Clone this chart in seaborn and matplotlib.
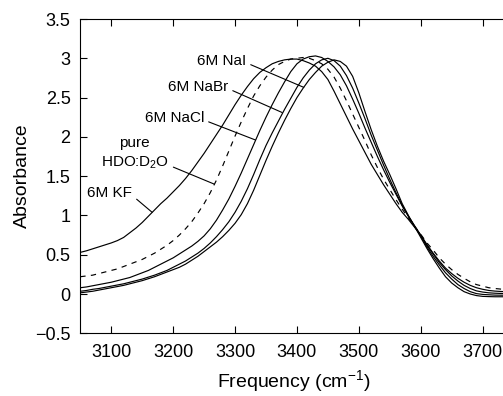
import matplotlib
matplotlib.use("Agg")
import matplotlib.pyplot as plt
import pandas as pd
import seaborn as sns

# ---------------- data (every 10 cm-1) ----------------
freq = list(range(3050, 3751, 10))

kf = [0.53, 0.55, 0.575, 0.60, 0.625, 0.65, 0.68, 0.72, 0.78, 0.84,
      0.91, 0.99, 1.07, 1.15, 1.22, 1.30, 1.38, 1.47, 1.57, 1.68,
      1.79, 1.91, 2.03, 2.15, 2.28, 2.41, 2.53, 2.64, 2.74, 2.82,
      2.88, 2.93, 2.96, 2.98, 2.99, 2.99, 2.97, 2.94, 2.90, 2.83,
      2.73, 2.58, 2.42, 2.26, 2.10, 1.95, 1.80, 1.65, 1.52, 1.39,
      1.27, 1.15, 1.04, 0.95, 0.85, 0.75, 0.63, 0.52, 0.42, 0.33,
      0.26, 0.20, 0.15, 0.11, 0.08, 0.06, 0.045, 0.037, 0.032, 0.03,
      0.03]

pure = [0.22, 0.23, 0.24, 0.26, 0.28, 0.30, 0.32, 0.35, 0.38, 0.41,
        0.44, 0.48, 0.52, 0.57, 0.62, 0.68, 0.75, 0.83, 0.92, 1.03,
        1.15, 1.29, 1.45, 1.63, 1.82, 2.01, 2.19, 2.36, 2.52, 2.65,
        2.76, 2.85, 2.92, 2.96, 2.99, 3.00, 3.01, 3.00, 2.97, 2.93,
        2.86, 2.76, 2.62, 2.46, 2.29, 2.12, 1.95, 1.77, 1.61, 1.46,
        1.33, 1.20, 1.08, 0.97, 0.86, 0.76, 0.65, 0.56, 0.46, 0.38,
        0.31, 0.25, 0.20, 0.155, 0.12, 0.10, 0.08, 0.07, 0.062, 0.058,
        0.055]

nacl = [0.08, 0.09, 0.105, 0.12, 0.135, 0.15, 0.17, 0.19, 0.21, 0.24,
        0.27, 0.30, 0.34, 0.38, 0.42, 0.46, 0.51, 0.56, 0.61, 0.67,
        0.74, 0.83, 0.94, 1.07, 1.21, 1.37, 1.54, 1.72, 1.90, 2.08,
        2.25, 2.41, 2.56, 2.70, 2.83, 2.93, 2.99, 3.02, 3.03, 3.01,
        2.96, 2.89, 2.79, 2.65, 2.48, 2.30, 2.11, 1.93, 1.75, 1.58,
        1.42, 1.27, 1.12, 0.99, 0.87, 0.75, 0.62, 0.51, 0.40, 0.31,
        0.23, 0.165, 0.11, 0.07, 0.04, 0.025, 0.015, 0.01, 0.007, 0.005,
        0.005]

nabr = [0.035, 0.045, 0.06, 0.07, 0.085, 0.10, 0.115, 0.13, 0.15, 0.17,
        0.19, 0.215, 0.24, 0.27, 0.30, 0.34, 0.38, 0.42, 0.47, 0.52,
        0.58, 0.65, 0.73, 0.82, 0.92, 1.04, 1.18, 1.34, 1.52, 1.71,
        1.89, 2.05, 2.20, 2.35, 2.49, 2.63, 2.75, 2.85, 2.93, 2.98,
        3.00, 2.97, 2.90, 2.78, 2.62, 2.43, 2.23, 2.02, 1.83, 1.64,
        1.46, 1.29, 1.13, 0.99, 0.86, 0.74, 0.60, 0.48, 0.37, 0.27,
        0.19, 0.12, 0.07, 0.03, 0.005, -0.005, -0.01, -0.014, -0.015, -0.015,
        -0.015]

nai = [0.015, 0.025, 0.035, 0.05, 0.065, 0.08, 0.095, 0.11, 0.13, 0.15,
       0.17, 0.195, 0.22, 0.25, 0.28, 0.31, 0.34, 0.38, 0.43, 0.48,
       0.54, 0.60, 0.66, 0.73, 0.81, 0.90, 1.01, 1.15, 1.32, 1.51,
       1.70, 1.88, 2.05, 2.21, 2.36, 2.50, 2.62, 2.73, 2.82, 2.90,
       2.95, 2.98, 2.96, 2.90, 2.77, 2.56, 2.32, 2.09, 1.88, 1.69,
       1.52, 1.34, 1.15, 1.00, 0.86, 0.72, 0.58, 0.45, 0.33, 0.22,
       0.14, 0.08, 0.03, 0.0, -0.02, -0.03, -0.033, -0.035, -0.035, -0.035,
       -0.035]

series_names = ["6M KF", "pure HDO:D2O", "6M NaCl", "6M NaBr", "6M NaI"]
series_values = [kf, pure, nacl, nabr, nai]

xticks = [3100, 3200, 3300, 3400, 3500, 3600, 3700]
yticks = [-0.5, 0, 0.5, 1, 1.5, 2, 2.5, 3, 3.5]
ytick_labels = ["\u22120.5", "0", "0.5", "1", "1.5", "2", "2.5", "3", "3.5"]

# ---------------- figure ----------------
sns.set_style("ticks")
plt.rcParams["font.family"] = ["Liberation Sans", "DejaVu Sans"]
plt.rcParams["text.color"] = "black"
plt.rcParams["axes.labelcolor"] = "black"
plt.rcParams["xtick.color"] = "black"
plt.rcParams["ytick.color"] = "black"

W, H = 503, 396
fig = plt.figure(figsize=(W / 100, H / 100), dpi=100)
left_px, right_px, top_px, bot_px = 80.3, 513.6, 19.0, 333.3
ax = fig.add_axes([left_px / W, 1 - bot_px / H,
                   (right_px - left_px) / W, (bot_px - top_px) / H])

df = pd.concat(
    [pd.DataFrame({"freq": freq, "absorbance": vals, "sample": name})
     for name, vals in zip(series_names, series_values)],
    ignore_index=True)

palette = {n: "black" for n in series_names}
dashes = {n: "" for n in series_names}
dashes["pure HDO:D2O"] = (4.5, 4.5)

sns.lineplot(data=df, x="freq", y="absorbance", hue="sample", style="sample",
             palette=palette, dashes=dashes, legend=False, linewidth=0.85,
             sort=False, ax=ax)

ax.set_xlim(3050, 3750)
ax.set_ylim(-0.5, 3.5)
ax.set_xticks(xticks)
ax.set_xticklabels([str(t) for t in xticks])
ax.set_yticks(yticks)
ax.set_yticklabels(ytick_labels)
ax.tick_params(direction="in", top=True, right=False, length=5, width=0.8,
               labelsize=13)
ax.tick_params(axis="x", pad=8)
ax.tick_params(axis="y", pad=7)
for s in ax.spines.values():
    s.set_linewidth(0.8)
    s.set_color("black")
ax.spines["right"].set_visible(False)

ax.set_xlabel("Frequency (cm$\\mathregular{^{-1}}$)", fontsize=14)
ax.set_ylabel("Absorbance", fontsize=14)
ax.xaxis.set_label_coords((294 - left_px) / (right_px - left_px), -0.11)
ax.yaxis.set_label_coords(-0.115, 0.5)

# ---------------- annotations ----------------
ann_kw = dict(textcoords="data", ha="right", va="center", fontsize=11)
arrow = dict(arrowstyle="-", color="black", lw=0.8, shrinkA=1, shrinkB=0,
             relpos=(1, 0.35))
ax.annotate("6M NaI", xy=(3411, 2.63), xytext=(3318, 2.97),
            arrowprops=arrow, **ann_kw)
ax.annotate("6M NaBr", xy=(3376, 2.31), xytext=(3289, 2.64),
            arrowprops=arrow, **ann_kw)
ax.annotate("6M NaCl", xy=(3333, 1.96), xytext=(3250, 2.24),
            arrowprops=arrow, **ann_kw)
ax.annotate("HDO:D$\\mathregular{_2}$O", xy=(3266, 1.40), xytext=(3193, 1.67),
            arrowprops=arrow, **ann_kw)
ax.text(3137, 1.92, "pure", ha="center", va="center", fontsize=11)
ax.annotate("6M KF", xy=(3166, 1.04), xytext=(3134, 1.28),
            arrowprops=arrow, **ann_kw)

fig.savefig("out.png", dpi=100)
